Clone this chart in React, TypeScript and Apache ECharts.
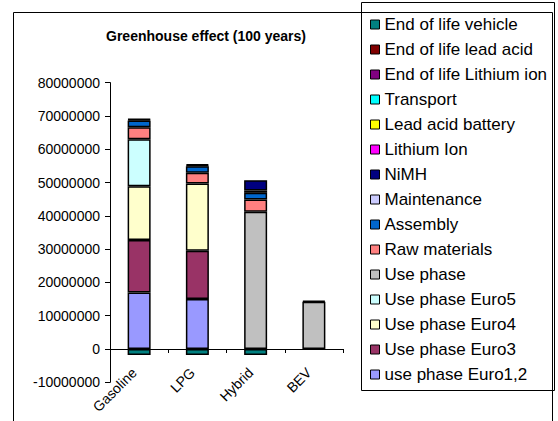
import React, { useEffect, useRef } from "react";
import * as echarts from "echarts";

const categories = ["Gasoline", "LPG", "Hybrid", "BEV"];

// values per category (Gasoline, LPG, Hybrid, BEV)
const useEuro12 = [17000000, 15000000, null, null];
const useEuro3 = [15700000, 14500000, null, null];
const useEuro4 = [16200000, 20200000, null, null];
const useEuro5 = [14100000, null, null, null];
const usePhase = [null, null, 41200000, 14200000];
const rawMaterials = [3600000, 3200000, 3700000, null];
const assembly = [2000000, 2000000, 2000000, null];
const maintenance = [300000, 300000, 700000, null];
const nimh = [null, null, 3100000, null];
const lithiumIon = [null, null, null, 300000];
const leadAcidBattery = [200000, 300000, null, null];
const transport = [null, null, null, null];
const eolLithium = [null, null, null, null];
const eolLeadAcid = [null, null, null, null];
const eolVehicle = [-1800000, -1800000, -1800000, null];

const seriesNames = [
  "use phase Euro1,2",
  "Use phase Euro3",
  "Use phase Euro4",
  "Use phase Euro5",
  "Use phase",
  "Raw materials",
  "Assembly",
  "Maintenance",
  "NiMH",
  "Lithium Ion",
  "Lead acid battery",
  "Transport",
  "End of life Lithium ion",
  "End of life lead acid",
  "End of life vehicle",
];
const seriesValues = [
  useEuro12,
  useEuro3,
  useEuro4,
  useEuro5,
  usePhase,
  rawMaterials,
  assembly,
  maintenance,
  nimh,
  lithiumIon,
  leadAcidBattery,
  transport,
  eolLithium,
  eolLeadAcid,
  eolVehicle,
];
const seriesColors = [
  "#9999FF",
  "#993366",
  "#FFFFCC",
  "#CCFFFF",
  "#C0C0C0",
  "#FF8080",
  "#0066CC",
  "#CCCCFF",
  "#000080",
  "#FF00FF",
  "#FFFF00",
  "#00FFFF",
  "#800080",
  "#800000",
  "#008080",
];

const yMin = -10000000;
const yMax = 80000000;
const yInterval = 10000000;

const FONT = "'Liberation Sans', Arial, sans-serif";

export default function App() {
  const ref = useRef<HTMLDivElement>(null);
  useEffect(() => {
    if (!ref.current) return;
    const chart = echarts.init(ref.current, undefined, { renderer: "svg" });
    const series = seriesNames.map((name, i) => ({
      name,
      type: "bar",
      stack: "total",
      barWidth: 23,
      data: seriesValues[i],
      itemStyle: {
        color: seriesColors[i],
        borderColor: "#000",
        borderWidth: 1.5,
      },
    }));
    chart.setOption({
      animation: false,
      textStyle: { fontFamily: FONT },
      grid: {
        left: 110,
        right: 215,
        top: 82.6,
        bottom: 38.7,
        containLabel: false,
        outerBoundsMode: "none",
      },
      xAxis: {
        type: "category",
        data: categories,
        axisLine: { onZero: true, lineStyle: { color: "#000", width: 1 } },
        axisTick: { show: true, length: 4, lineStyle: { color: "#000" } },
        axisLabel: {
          rotate: 45,
          margin: -17,
          padding: [0, 7, 0, 0],
          color: "#000",
          fontSize: 14,
          fontFamily: FONT,
        },
      },
      yAxis: {
        type: "value",
        min: yMin,
        max: yMax,
        interval: yInterval,
        splitLine: { show: false },
        axisLine: { show: true, lineStyle: { color: "#000", width: 1 } },
        axisTick: { show: true, length: 5, lineStyle: { color: "#000" } },
        axisLabel: {
          margin: 10,
          color: "#000",
          fontSize: 14,
          fontFamily: FONT,
          formatter: (v: number) => String(v),
        },
      },
      legend: {
        orient: "vertical",
        left: 370,
        top: 16,
        padding: 0,
        itemWidth: 9,
        itemHeight: 9,
        itemGap: 8,
        itemTextGap: 7,
        icon: "rect",
        itemStyle: { borderColor: "#000", borderWidth: 1 },
        textStyle: { fontSize: 17, lineHeight: 17, color: "#000", fontFamily: FONT },
        data: [...seriesNames].reverse(),
      },
      graphic: [
        {
          type: "rect",
          shape: { x: 13.5, y: 12.5, width: 539, height: 430 },
          style: { fill: "none", stroke: "#000", lineWidth: 1 },
          silent: true,
        },
        {
          type: "rect",
          shape: { x: 361.5, y: 2.5, width: 193, height: 388 },
          style: { fill: "#fff", stroke: "#000", lineWidth: 1 },
          z: -1,
          silent: true,
        },
        {
          type: "text",
          x: 206,
          y: 36,
          style: {
            text: "Greenhouse effect (100 years)",
            font: `bold 14px ${FONT}`,
            fill: "#000",
            textAlign: "center",
            textVerticalAlign: "middle",
          },
        },
      ],
      series,
    });
    return () => chart.dispose();
  }, []);
  return (
    <div
      ref={ref}
      style={{ position: "fixed", left: 0, top: 0, width: 558, height: 421, background: "#fff" }}
    />
  );
}
